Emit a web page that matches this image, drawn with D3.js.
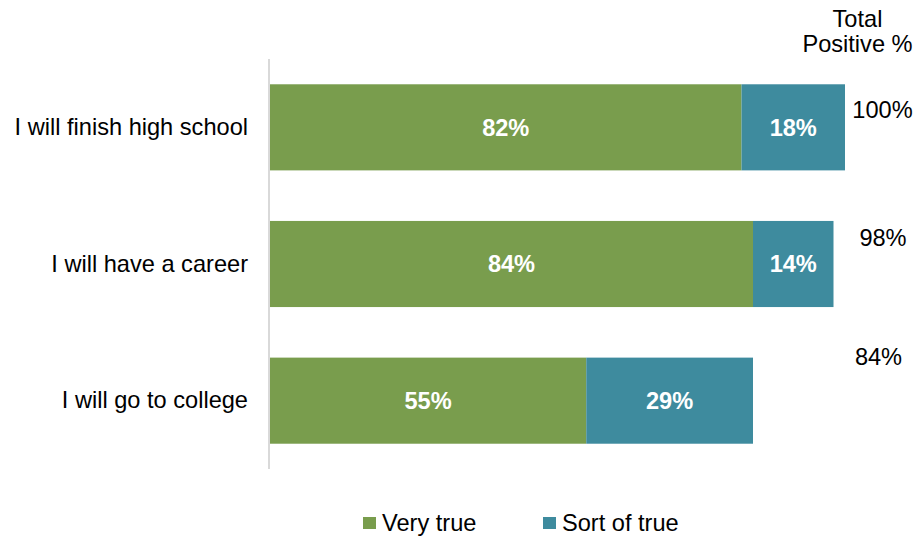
<!DOCTYPE html>
<html>
<head>
<meta charset="utf-8">
<script src="https://cdn.jsdelivr.net/npm/d3@7"></script>
<style>
  html, body { margin: 0; padding: 0; background: #fff; }
  svg { display: block; font-family: "Liberation Sans", Arial, sans-serif; }
</style>
</head>
<body>
<svg id="chart" width="919" height="539"></svg>
<script>
// Survey statements and response shares (%)
const categories = ["I will finish high school", "I will have a career", "I will go to college"];
const veryTrue   = [82, 84, 55];
const sortOfTrue = [18, 14, 29];
const totalPositive = [100, 98, 84];
const seriesNames = ["Very true", "Sort of true"];
const colors = ["#799d4d", "#3e8b9e"];

const svg = d3.select("#chart");
const fontSize = 23.6;

const x = d3.scaleLinear().domain([0, 100]).range([270, 845]);
const y = d3.scaleBand().domain(categories).range([59, 469])
  .paddingInner(0.37).paddingOuter(0.185);

const rows = categories.map((c, i) => ({
  cat: c,
  segs: [
    { key: seriesNames[0], x0: 0, x1: veryTrue[i], v: veryTrue[i], color: colors[0] },
    { key: seriesNames[1], x0: veryTrue[i], x1: veryTrue[i] + sortOfTrue[i], v: sortOfTrue[i], color: colors[1] }
  ],
  total: totalPositive[i]
}));

// Bars
const g = svg.append("g");
const row = g.selectAll("g.row").data(rows).join("g").attr("class", "row");
row.selectAll("rect").data(d => d.segs.map(s => ({ ...s, cat: d.cat }))).join("rect")
  .attr("x", d => x(d.x0))
  .attr("width", d => x(d.x1) - x(d.x0))
  .attr("y", d => y(d.cat))
  .attr("height", y.bandwidth())
  .attr("fill", d => d.color);

// Segment value labels
row.selectAll("text.seg").data(d => d.segs.map(s => ({ ...s, cat: d.cat }))).join("text")
  .attr("class", "seg")
  .attr("x", d => (x(d.x0) + x(d.x1)) / 2)
  .attr("y", d => y(d.cat) + y.bandwidth() / 2)
  .attr("dy", "0.35em")
  .attr("text-anchor", "middle")
  .attr("fill", "#fff")
  .attr("font-weight", "bold")
  .attr("font-size", fontSize)
  .text(d => d.v + "%");

// Category axis
const yAxis = svg.append("g").attr("transform", "translate(269,0)")
  .call(d3.axisLeft(y).tickSize(0).tickPadding(21));
yAxis.select(".domain").attr("stroke", "#d9d9d9").attr("stroke-width", 2)
  .attr("d", "M0,59V469");
yAxis.selectAll(".tick text")
  .attr("font-size", fontSize)
  .attr("font-family", "Liberation Sans, Arial, sans-serif")
  .attr("fill", "#000");

// Total positive column
const totalOffsets = [-18, -26, -43.5];
const totalX = [882.5, 883, 878.5];
svg.append("g").selectAll("text").data(rows).join("text")
  .attr("x", (d, i) => totalX[i])
  .attr("y", (d, i) => y(d.cat) + y.bandwidth() / 2 + totalOffsets[i])
  .attr("dy", "0.35em")
  .attr("text-anchor", "middle")
  .attr("font-size", fontSize)
  .attr("fill", "#000")
  .text(d => d.total + "%");

const header = svg.append("text")
  .attr("text-anchor", "middle")
  .attr("font-size", fontSize)
  .attr("fill", "#000");
header.append("tspan").attr("x", 857.5).attr("y", 27).text("Total");
header.append("tspan").attr("x", 857.5).attr("y", 52).text("Positive %");

// Legend
const legendX = [363, 543];
const legend = svg.append("g").selectAll("g").data(seriesNames).join("g")
  .attr("transform", (d, i) => `translate(${legendX[i]},0)`);
legend.append("rect").attr("x", 0).attr("y", 517).attr("width", 13).attr("height", 12)
  .attr("fill", (d, i) => colors[i]);
legend.append("text").attr("x", 19).attr("y", 523).attr("dy", "0.35em")
  .attr("font-size", fontSize).attr("fill", "#000")
  .text(d => d);
</script>
</body>
</html>
